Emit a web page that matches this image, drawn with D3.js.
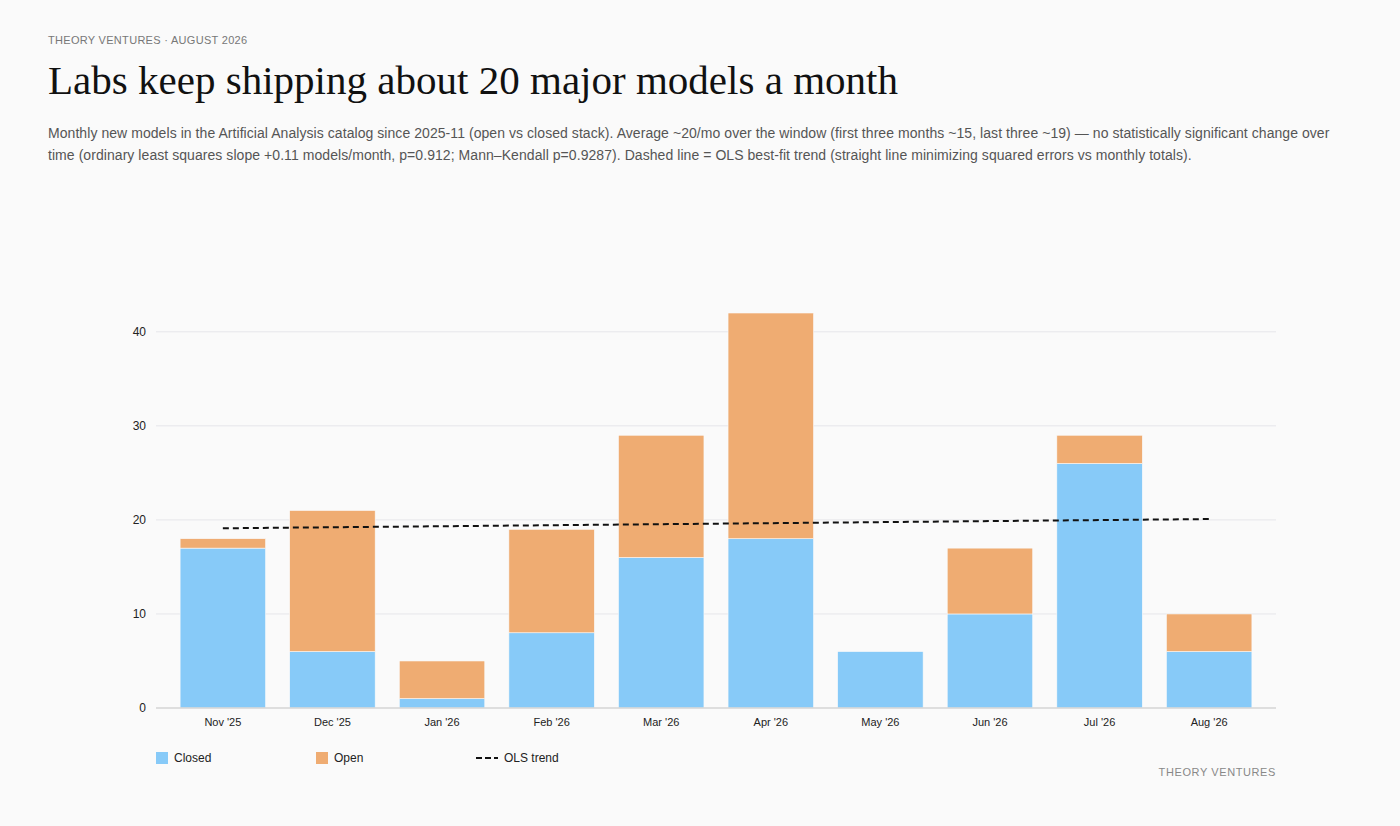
<!DOCTYPE html>
<html>
<head>
<meta charset="utf-8">
<script src="https://cdn.jsdelivr.net/npm/d3@7"></script>
<style>
  body { margin: 0; background: #fafafa; }
  svg { display: block; }
</style>
</head>
<body>
<div id="chart"></div>
<script>
// data
const months = ["Nov '25", "Dec '25", "Jan '26", "Feb '26", "Mar '26", "Apr '26", "May '26", "Jun '26", "Jul '26", "Aug '26"];
const closed = [17, 6, 1, 8, 16, 18, 6, 10, 26, 6];
const open   = [1, 15, 4, 11, 13, 24, 0, 7, 3, 4];
const trendEnds = [19.11, 20.09];   // OLS fit at first and last month
const yTicks = [0, 10, 20, 30, 40];

const subtitleLines = [
  "Monthly new models in the Artificial Analysis catalog since 2025-11 (open vs closed stack). Average ~20/mo over the window (first three months ~15, last three ~19) \u2014 no statistically significant change over",
  "time (ordinary least squares slope +0.11 models/month, p=0.912; Mann\u2013Kendall p=0.9287). Dashed line = OLS best-fit trend (straight line minimizing squared errors vs monthly totals)."
];

const width = 1400, height = 826;
const sans = "'Liberation Sans', Arial, sans-serif";

const svg = d3.select("#chart")
    .append("svg")
    .attr("width", width)
    .attr("height", height)
    .style("background", "#fafafa");

// header
svg.append("text")
    .text("THEORY VENTURES \u00b7 AUGUST 2026")
    .attr("x", 48).attr("y", 44)
    .attr("font-family", sans)
    .attr("font-size", "11px")
    .attr("letter-spacing", "0.3px")
    .attr("fill", "#777");

svg.append("text")
    .text("Labs keep shipping about 20 major models a month")
    .attr("x", 48).attr("y", 94)
    .attr("font-family", "'Liberation Serif', 'DejaVu Serif', serif")
    .attr("font-size", "39px")
    .attr("textLength", 850)
    .attr("lengthAdjust", "spacingAndGlyphs")
    .attr("fill", "#111");

svg.append("g")
    .selectAll("text")
    .data(subtitleLines)
    .join("text")
        .text(d => d)
        .attr("x", 48)
        .attr("y", (d, i) => 138 + i * 22)
        .attr("font-family", sans)
        .attr("font-size", "14px")
        .attr("letter-spacing", "0.06px")
        .attr("fill", "#555");

// scales
const x = d3.scaleBand()
    .domain(months)
    .range([156, 1276])
    .paddingInner(0.22)
    .paddingOuter(0.22);

const y = d3.scaleLinear()
    .domain([0, 42])
    .range([708, 313]);

const data = months.map((m, i) => ({ month: m, Closed: closed[i], Open: open[i] }));
const stack = d3.stack().keys(["Closed", "Open"])(data);
const colors = { Closed: "#87caf8", Open: "#efac72" };

// grid
svg.append("g")
    .selectAll("line")
    .data(yTicks.filter(d => d > 0))
    .join("line")
        .attr("x1", 156).attr("x2", 1276)
        .attr("y1", d => y(d)).attr("y2", d => y(d))
        .attr("stroke", "#e6e6ea")
        .attr("stroke-width", 1);

// y labels
const yAxis = svg.append("g")
    .attr("transform", "translate(156,0)")
    .call(d3.axisLeft(y).tickValues(yTicks).tickSize(0).tickPadding(10));
yAxis.select(".domain").remove();
yAxis.selectAll("text")
    .attr("font-family", sans)
    .attr("font-size", "12px")
    .attr("fill", "#222");

// bars
svg.append("g")
    .selectAll("g")
    .data(stack)
    .join("g")
        .attr("fill", d => colors[d.key])
    .selectAll("rect")
    .data(d => d)
    .join("rect")
        .attr("x", d => x(d.data.month))
        .attr("width", x.bandwidth())
        .attr("y", d => y(d[1]))
        .attr("height", d => y(d[0]) - y(d[1]))
        .attr("stroke", "#fafafa")
        .attr("stroke-width", 0.6);

// x axis
const xAxis = svg.append("g")
    .attr("transform", "translate(0,708)")
    .call(d3.axisBottom(x).tickSize(0).tickPadding(10));
xAxis.select(".domain")
    .attr("d", "M156,0H1276")
    .attr("stroke", "#d4d4d4")
    .attr("stroke-width", 1.5);
xAxis.selectAll("text")
    .attr("font-family", sans)
    .attr("font-size", "11px")
    .attr("fill", "#222");

// OLS trend
const trendPts = [
  [x(months[0]) + x.bandwidth() / 2, trendEnds[0]],
  [x(months[months.length - 1]) + x.bandwidth() / 2, trendEnds[1]]
];
svg.append("path")
    .datum(trendPts)
    .attr("d", d3.line().x(d => d[0]).y(d => y(d[1])))
    .attr("fill", "none")
    .attr("stroke", "#111")
    .attr("stroke-width", 2)
    .attr("stroke-dasharray", "6,4");

// legend
const legendItems = [
  { label: "Closed", type: "swatch", color: colors.Closed },
  { label: "Open", type: "swatch", color: colors.Open },
  { label: "OLS trend", type: "dash", color: "#111" }
];
const legend = svg.append("g")
    .selectAll("g")
    .data(legendItems)
    .join("g")
        .attr("transform", (d, i) => `translate(${156 + i * 160}, 758)`);

legend.filter(d => d.type === "swatch")
    .append("rect")
        .attr("x", 0).attr("y", -6)
        .attr("width", 12).attr("height", 12)
        .attr("fill", d => d.color);

legend.filter(d => d.type === "dash")
    .append("line")
        .attr("x1", 0).attr("x2", 22)
        .attr("y1", 0).attr("y2", 0)
        .attr("stroke", d => d.color)
        .attr("stroke-width", 2)
        .attr("stroke-dasharray", "6,3");

legend.append("text")
    .text(d => d.label)
    .attr("x", d => d.type === "dash" ? 28 : 18)
    .attr("y", 4)
    .attr("font-family", sans)
    .attr("font-size", "12px")
    .attr("fill", "#222");

// footer
svg.append("text")
    .text("THEORY VENTURES")
    .attr("x", 1276).attr("y", 776)
    .attr("text-anchor", "end")
    .attr("font-family", sans)
    .attr("font-size", "11px")
    .attr("letter-spacing", "0.6px")
    .attr("fill", "#888");
</script>
</body>
</html>
